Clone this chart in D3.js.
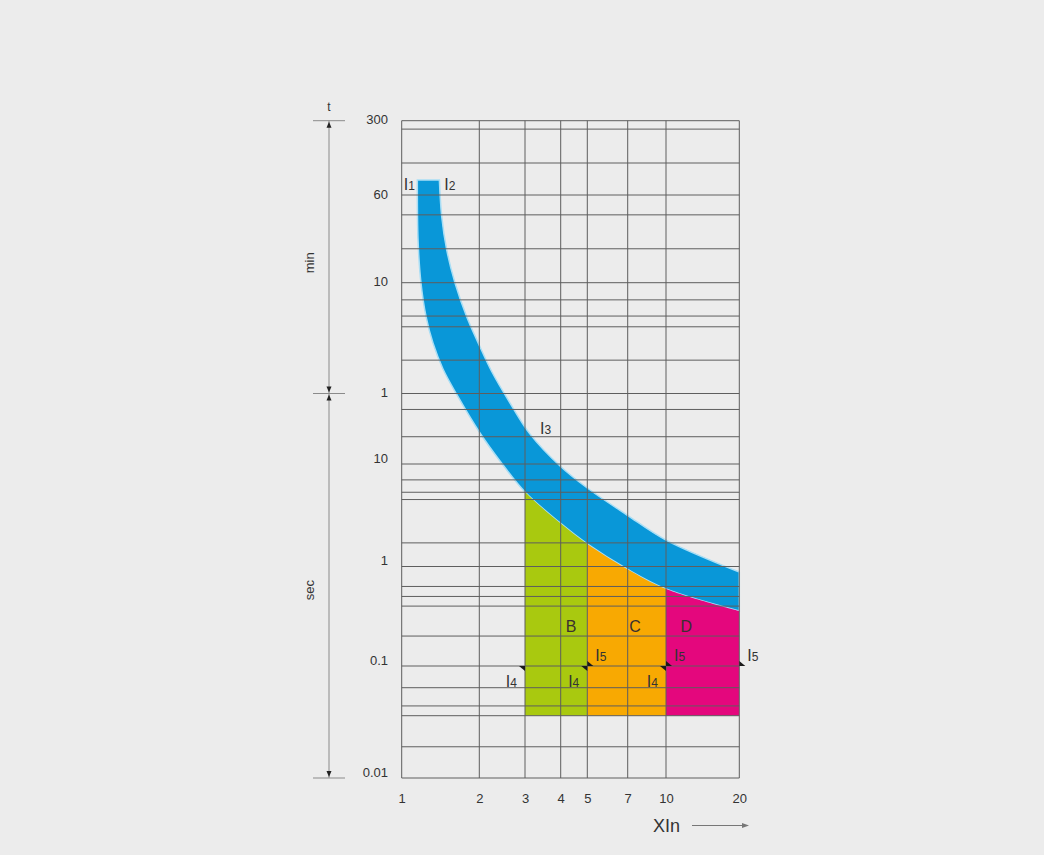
<!DOCTYPE html>
<html>
<head>
<meta charset="utf-8">
<title>Tripping characteristic B / C / D</title>
<script src="https://d3js.org/d3.v7.min.js"></script>
<style>
  body { margin: 0; background: #ececec; }
  text { font-family: "Liberation Sans", Arial, sans-serif; fill: #333; }
  .grid line { stroke: #5e5e5e; stroke-width: 1; }
  .axis path { display: none; }
  .axis text { font-size: 13px; fill: #333; }
  .dim line { stroke: #8a8a8a; stroke-width: 1; }
  .zone-label { font-size: 16px; fill: #3a3030; text-anchor: middle; }
  .ilabel { font-size: 16px; fill: #333; }
</style>
</head>
<body>
<div id="chart"></div>
<script>
// multiples of In on the x axis
const xTicks = [1, 2, 3, 4, 5, 7, 10, 20];

// time axis, values in seconds (upper part is labelled in minutes)
const yTickValues = [18000, 3600, 600, 60, 10, 1, 0.1, 0.01];
const yTickLabels = ["300", "60", "10", "1", "10", "1", "0.1", "0.01"];

// horizontal grid lines
const gridMinutes = [300, 250, 120, 60, 40, 20, 10, 7, 5, 4, 2, 1];
const gridSeconds = [40, 20, 10, 7, 5.3, 4.5, 1.7, 1, 0.63, 0.5, 0.4, 0.2, 0.1, 0.064, 0.044, 0.036, 0.019, 0.01];

// thermal band: [x multiple, t in seconds]
const upperEdge = [[1.40, 4985], [1.43, 2312], [1.495, 1171], [1.61, 596], [1.787, 296], [1.982, 171],
  [2.238, 93.8], [2.627, 47.1], [3.12, 21.5], [3.98, 9.56], [5, 5.83], [6.96, 3.18], [10, 1.81], [20, 0.88]];
const lowerEdge = [[1.15, 4985], [1.157, 1437], [1.188, 596], [1.242, 300], [1.3225, 171], [1.446, 99.8],
  [1.639, 57.8], [2.012, 22.0], [2.403, 10.8], [3, 5.33], [3.98, 2.66], [5, 1.66], [6.96, 0.944], [10, 0.594], [20, 0.357]];

// magnetic trip zones
const zoneNames = ["B", "C", "D"];
const zoneFrom = [3, 5, 10];
const zoneTo = [5, 10, 20];
const zoneLabelX = [4.36, 7.49, 12.1];
const zoneLabelT = 0.22;
const zoneBottom = 0.036;
const zoneColors = ["#a9c90f", "#f8a902", "#e4077d"];
const bandColor = "#0997d8";

const W = 1044, H = 855;
const svg = d3.select("#chart").append("svg")
  .attr("width", W)
  .attr("height", H);

svg.append("rect").attr("width", W).attr("height", H).attr("fill", "#ececec");

const x = d3.scaleLog()
  .domain(xTicks)
  .range([401.7, 479.3, 525, 560.7, 587.3, 627.7, 666, 739.3]);

const y = d3.scaleLog()
  .domain(yTickValues)
  .range([120.7, 195, 282.7, 393.5, 464, 566.5, 666, 778]);

const xMin = d3.min(xTicks), xMax = d3.max(xTicks);
const tTop = d3.max(yTickValues), tBot = d3.min(yTickValues);

const line = d3.line()
  .x(d => x(d[0]))
  .y(d => y(d[1]))
  .curve(d3.curveCatmullRom);

// clip: everything below the lower edge of the band
const lowerPath = line(lowerEdge);
svg.append("clipPath").attr("id", "below")
  .append("path")
  .attr("d", lowerPath + "L" + x(xMax) + "," + y(tBot) + "L" + x(lowerEdge[0][0]) + "," + y(tBot) + "Z");

// band
const bandPath = line(upperEdge) + "L" + line(lowerEdge.slice().reverse()).slice(1) + "Z";
svg.append("path")
  .attr("d", bandPath)
  .attr("fill", bandColor)
  .attr("stroke", "#a9def5")
  .attr("stroke-width", 1.5)
  .attr("stroke-linejoin", "miter");

// zones B, C, D
svg.append("g")
  .attr("clip-path", "url(#below)")
  .selectAll("rect")
  .data(zoneNames)
  .join("rect")
  .attr("x", (d, i) => x(zoneFrom[i]))
  .attr("width", (d, i) => x(zoneTo[i]) - x(zoneFrom[i]))
  .attr("y", y(tTop))
  .attr("height", y(zoneBottom) - y(tTop))
  .attr("fill", (d, i) => zoneColors[i]);

// grid
const grid = svg.append("g").attr("class", "grid");
const gridT = gridMinutes.map(m => m * 60).concat(gridSeconds);
grid.selectAll("line.h")
  .data(gridT)
  .join("line")
  .attr("class", "h")
  .attr("x1", x(xMin)).attr("x2", x(xMax))
  .attr("y1", d => y(d)).attr("y2", d => y(d));
grid.selectAll("line.v")
  .data(xTicks)
  .join("line")
  .attr("class", "v")
  .attr("x1", d => x(d)).attr("x2", d => x(d))
  .attr("y1", y(tTop)).attr("y2", y(tBot));

// axes
svg.append("g")
  .attr("class", "axis")
  .attr("transform", "translate(0," + y(tBot) + ")")
  .call(d3.axisBottom(x).tickValues(xTicks).tickFormat(d3.format("d")).tickSize(0).tickPadding(16));

const yAxis = svg.append("g")
  .attr("class", "axis")
  .attr("transform", "translate(392,0)")
  .call(d3.axisLeft(y).tickValues(yTickValues).tickFormat((d, i) => yTickLabels[i]).tickSize(0).tickPadding(4));
// minute labels sit on their lines, second labels a little above
yAxis.selectAll(".tick text").attr("y", d => (d >= 60 ? -1 : -6));

// dimension line on the left (t, min, sec)
const dimX = 329;
const dim = svg.append("g").attr("class", "dim");
dim.append("line").attr("x1", dimX).attr("x2", dimX).attr("y1", y(tTop)).attr("y2", y(tBot));
[tTop, 60, tBot].forEach(t => {
  dim.append("line").attr("x1", dimX - 16).attr("x2", dimX + 16).attr("y1", y(t)).attr("y2", y(t));
});
const arrow = (yy, dir) => "M" + dimX + "," + yy + "L" + (dimX - 2.5) + "," + (yy + dir * 6) + "L" + (dimX + 2.5) + "," + (yy + dir * 6) + "Z";
svg.append("g").attr("fill", "#222")
  .selectAll("path")
  .data([[y(tTop) + 1, 1], [y(60) - 1, -1], [y(60) + 1, 1], [y(tBot) - 1, -1]])
  .join("path")
  .attr("d", d => arrow(d[0], d[1]));

svg.append("text").attr("x", dimX).attr("y", y(tTop) - 10).attr("text-anchor", "middle")
  .style("font-size", "12px").text("t");
svg.append("text").attr("transform", "translate(314," + y(900) + ") rotate(-90)")
  .attr("text-anchor", "middle").style("font-size", "13px").text("min");
svg.append("text").attr("transform", "translate(314," + y(0.58) + ") rotate(-90)")
  .attr("text-anchor", "middle").style("font-size", "13px").text("sec");

// x axis title with arrow
svg.append("text").attr("x", 653).attr("y", 832).style("font-size", "18px").text("XIn");
svg.append("line").attr("x1", 692).attr("x2", 746).attr("y1", 825.5).attr("y2", 825.5)
  .attr("stroke", "#777").attr("stroke-width", 1);
svg.append("path").attr("d", "M749,825.5L742,823L742,828Z").attr("fill", "#777");

// I-labels
function ilabel(px, py, sub, anchor) {
  const t = svg.append("text").attr("class", "ilabel")
    .attr("x", px).attr("y", py)
    .attr("text-anchor", anchor || "start");
  t.append("tspan").text("I");
  t.append("tspan").style("font-size", "12px").text(sub);
}
ilabel(x(1) + 2, y(upperEdge[0][1]) + 10, "1");
ilabel(x(upperEdge[0][0]) + 5, y(upperEdge[0][1]) + 10, "2");
ilabel(x(3) + 15, y(21.5), "3");

// zone letters
svg.append("g").selectAll("text")
  .data(zoneNames)
  .join("text")
  .attr("class", "zone-label")
  .attr("x", (d, i) => x(zoneLabelX[i]))
  .attr("y", y(zoneLabelT))
  .text(d => d);

// I4 / I5 markers at 0.1 s
const y01 = y(0.1);
zoneFrom.forEach(v => {
  ilabel(x(v) - 8, y01 + 21, "4", "end");
  svg.append("path")
    .attr("d", "M" + (x(v) - 6) + "," + y01 + "L" + x(v) + "," + y01 + "L" + x(v) + "," + (y01 + 5) + "Z")
    .attr("fill", "#1a1a1a");
});
zoneTo.forEach(v => {
  ilabel(x(v) + 8, y01 - 5, "5");
  svg.append("path")
    .attr("d", "M" + x(v) + "," + y01 + "L" + (x(v) + 6) + "," + y01 + "L" + x(v) + "," + (y01 - 5) + "Z")
    .attr("fill", "#1a1a1a");
});
</script>
</body>
</html>
